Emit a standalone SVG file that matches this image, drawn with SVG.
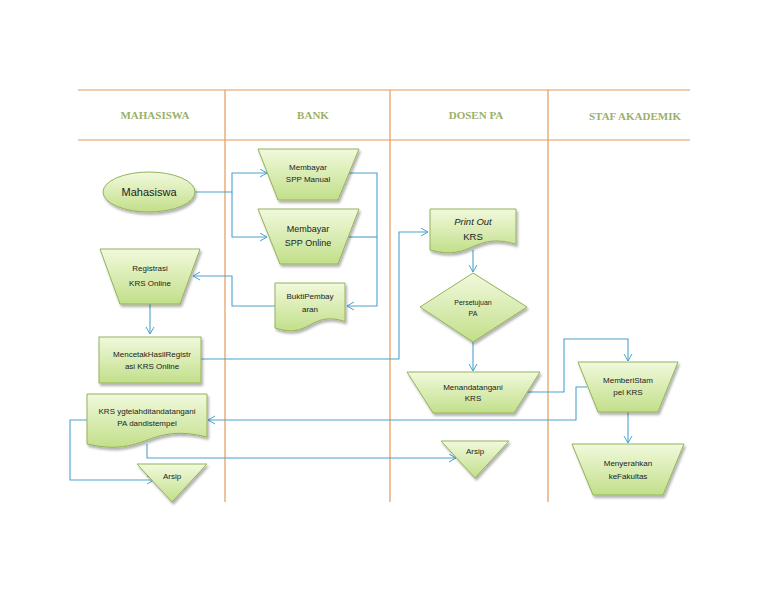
<svg xmlns="http://www.w3.org/2000/svg" width="768" height="594" viewBox="0 0 768 594">
<defs>
<linearGradient id="g" x1="0" y1="0" x2="0" y2="1">
<stop offset="0" stop-color="#f1f9dc"/>
<stop offset="1" stop-color="#c2df8a"/>
</linearGradient>
<filter id="sh" x="-20%" y="-20%" width="140%" height="150%">
<feDropShadow dx="1.5" dy="2.5" stdDeviation="1.2" flood-color="#000" flood-opacity="0.3"/>
</filter>
<marker id="ar" markerUnits="userSpaceOnUse" markerWidth="10" markerHeight="10" refX="8" refY="4.5" orient="auto">
<path d="M1,0.5 L8,4.5 L1,8.5" fill="none" stroke="#4ba3cc" stroke-width="1"/>
</marker>
</defs>
<style>
.lane{stroke:#e39a5a;stroke-width:1.2;fill:none}
.hd{font-family:"Liberation Serif",serif;font-weight:bold;font-size:11px;fill:#9bb06a;text-anchor:middle}
.sh{fill:url(#g);stroke:#93b25a;stroke-width:1;filter:url(#sh)}
.t{font-family:"Liberation Sans",Arial,sans-serif;font-size:8px;fill:#222;text-anchor:middle}
.c{fill:none;stroke:#4ba3cc;stroke-width:1.1;marker-end:url(#ar)}
.cn{fill:none;stroke:#4ba3cc;stroke-width:1.1}
</style>
<rect width="768" height="594" fill="#fff"/>
<g id="lanes">
<line class="lane" x1="78" y1="90" x2="690" y2="90"/>
<line class="lane" x1="78" y1="140" x2="690" y2="140"/>
<line class="lane" x1="225" y1="90" x2="225" y2="502"/>
<line class="lane" x1="390" y1="90" x2="390" y2="502"/>
<line class="lane" x1="548" y1="90" x2="548" y2="502"/>
<text class="hd" x="155" y="119">MAHASISWA</text>
<text class="hd" x="313" y="119">BANK</text>
<text class="hd" x="476" y="119">DOSEN PA</text>
<text class="hd" x="635" y="120">STAF AKADEMIK</text>
</g>
<g id="connectors">
<path class="c" d="M195,192 H232 V173 H267"/>
<path class="c" d="M232,192 V237 H267"/>
<path class="c" d="M349,173 H377 V306 H347"/>
<path class="cn" d="M348,237 H377"/>
<path class="c" d="M275,306 H232 V276 H193"/>
<path class="c" d="M150,304 V334"/>
<path class="c" d="M201,359 H399 V232 H428"/>
<path class="c" d="M473,250 V272"/>
<path class="c" d="M473,342 V371"/>
<path class="c" d="M527,392 H564 V339 H628 V361"/>
<path class="c" d="M587,387 H576 V420 H208"/>
<path class="c" d="M628,412 V443"/>
<path class="c" d="M147,444 V458 H456"/>
<path class="c" d="M87,420 H70 V480 H154"/>
</g>
<g id="mahasiswa">
<ellipse class="sh" cx="149" cy="192" rx="46" ry="20"/>
<text class="t" x="149" y="196" style="font-size:11px">Mahasiswa</text>
</g>
<g id="spp-manual">
<polygon class="sh" points="258,149 359,149 338,200 278,200"/>
<text class="t" x="308" y="170">Membayar</text>
<text class="t" x="308" y="182">SPP Manual</text>
</g>
<g id="spp-online">
<polygon class="sh" points="258,209 359,209 338,264 280,264"/>
<text class="t" x="308" y="232" style="font-size:9px">Membayar</text>
<text class="t" x="308" y="246" style="font-size:9px">SPP Online</text>
</g>
<g id="bukti">
<path class="sh" d="M275,283 H345 V321.5 C310,310 310,340 275,328 Z"/>
<text class="t" x="310" y="299">BuktiPembay</text>
<text class="t" x="310" y="312">aran</text>
</g>
<g id="registrasi">
<polygon class="sh" points="100,249 200,249 180,304 120,304"/>
<text class="t" x="150" y="271">Registrasi</text>
<text class="t" x="150" y="286">KRS Online</text>
</g>
<g id="mencetak">
<rect class="sh" x="99" y="337" width="102" height="46"/>
<text class="t" x="152" y="357">MencetakHasilRegistr</text>
<text class="t" x="152" y="369">asi KRS Online</text>
</g>
<g id="print-out">
<path class="sh" d="M430,209 H516 V244.3 C473,231 473,262 430,250 Z"/>
<text class="t" x="473" y="225" style="font-size:9.5px;font-style:italic">Print Out</text>
<text class="t" x="473" y="240" style="font-size:9.5px">KRS</text>
</g>
<g id="persetujuan">
<polygon class="sh" points="473,273 527,307 473,342 420,307"/>
<text class="t" x="473" y="305" style="font-size:7px">Persetujuan</text>
<text class="t" x="473" y="316" style="font-size:7px">PA</text>
</g>
<g id="menandatangani">
<polygon class="sh" points="407,372 540,372 514,413 433,413"/>
<text class="t" x="473" y="390">Menandatangani</text>
<text class="t" x="473" y="401">KRS</text>
</g>
<g id="memberi-stampel">
<polygon class="sh" points="578,362 678,362 658,412 598,412"/>
<text class="t" x="628" y="383">MemberiStam</text>
<text class="t" x="628" y="395">pel KRS</text>
</g>
<g id="menyerahkan">
<polygon class="sh" points="572,444 684,444 663,495 593,495"/>
<text class="t" x="628" y="466">Menyerahkan</text>
<text class="t" x="628" y="479">keFakultas</text>
</g>
<g id="krs-ditandatangani">
<path class="sh" d="M87,394 H207 V437 C147,422 147,458 87,444 Z"/>
<text class="t" x="147" y="414">KRS ygtelahditandatangani</text>
<text class="t" x="147" y="426">PA dandistempel</text>
</g>
<g id="arsip-1">
<polygon class="sh" points="137,464 207,464 172,502"/>
<text class="t" x="172" y="479">Arsip</text>
</g>
<g id="arsip-2">
<polygon class="sh" points="441,441 509,441 475,478"/>
<text class="t" x="475" y="454">Arsip</text>
</g>
</svg>
